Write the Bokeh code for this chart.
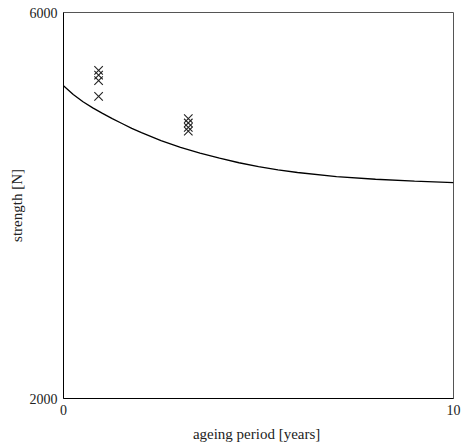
from bokeh.plotting import figure
from bokeh.models import FixedTicker, Range1d
from bokeh.embed import file_html
from bokeh.resources import INLINE

# curve: ageing period (years) vs strength (N)
curve_x = [0, 0.25, 0.5, 0.75, 1, 1.25, 1.5, 1.75, 2, 2.5, 3, 3.5, 4, 4.5, 5, 5.5, 6, 7, 8, 9, 10]
curve_y = [5240, 5150, 5075, 5012, 4955, 4900, 4850, 4800, 4755, 4672, 4602, 4542, 4490, 4443, 4403, 4370, 4342, 4300, 4272, 4252, 4238]

# measured points (x markers)
meas_x = [0.9, 0.9, 0.9, 0.9, 3.2, 3.2, 3.2, 3.2]
meas_y = [5400, 5350, 5295, 5130, 4900, 4855, 4810, 4770]

x_ticks = [0, 10]
y_ticks = [2000, 6000]

FONT = "Liberation Serif"

p = figure(width=462, height=448, output_backend="svg", toolbar_location=None,
           x_range=Range1d(0, 10), y_range=Range1d(2000, 6000),
           min_border_left=63, min_border_right=9, min_border_top=12, min_border_bottom=50)
p.grid.visible = False
p.background_fill_color = "white"
p.border_fill_color = "white"
p.outline_line_color = "#555555"
p.outline_line_width = 1

p.line(curve_x, curve_y, line_color="black", line_width=1.3)
p.scatter(meas_x, meas_y, marker="x", size=12, line_color="#222222", line_width=1.1)

for ax in (p.xaxis[0], p.yaxis[0]):
    ax.major_tick_in = 0
    ax.major_tick_out = 0
    ax.minor_tick_in = 0
    ax.minor_tick_out = 0
    ax.axis_line_color = "black"
    ax.major_label_text_font = FONT
    ax.major_label_text_font_size = "14px"
    ax.major_label_text_color = "#222222"
    ax.axis_label_text_font = FONT
    ax.axis_label_text_font_size = "15px"
    ax.axis_label_text_font_style = "normal"
    ax.axis_label_text_color = "#222222"

p.xaxis.ticker = FixedTicker(ticks=x_ticks)
p.yaxis.ticker = FixedTicker(ticks=y_ticks)
p.xaxis.axis_label = "ageing period  [years]"
p.yaxis.axis_label = "strength [N]"
p.xaxis.major_label_standoff = 6
p.yaxis.major_label_standoff = 6
p.xaxis.axis_label_standoff = 8
p.yaxis.axis_label_standoff = 2

open("out.html", "w").write(file_html(p, INLINE))
